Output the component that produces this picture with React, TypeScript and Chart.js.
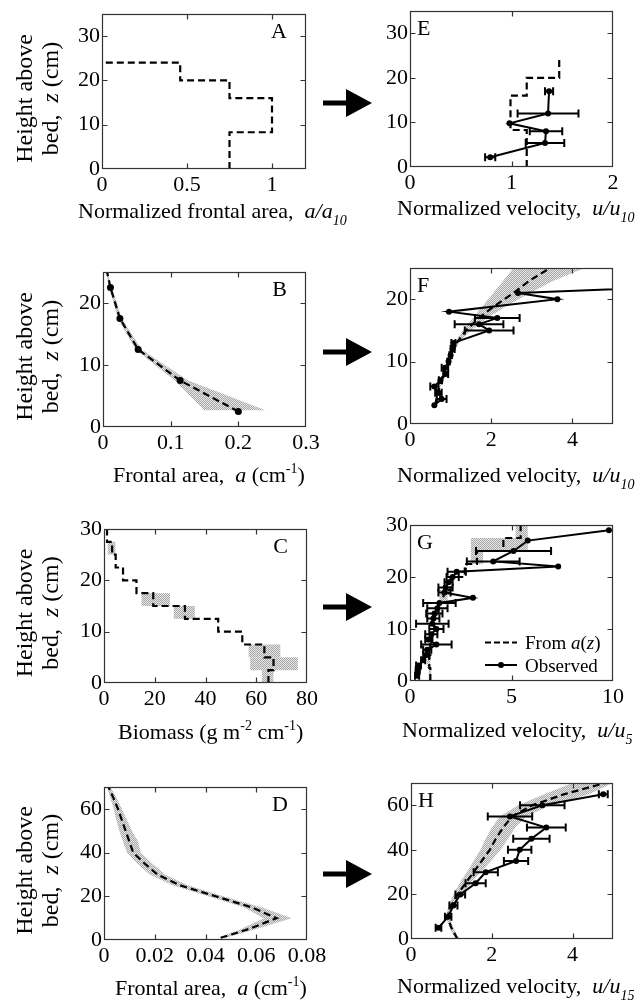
import React, { useEffect, useRef } from 'react';
import { Chart, registerables } from 'chart.js';
Chart.register(...registerables);

const FONT = "'Liberation Serif', 'Times New Roman', Times, serif";

// ---------------- DATA ----------------
// Panel A: normalized frontal area (step profile)
const aEdges = [0, 8.3, 16, 20, 24];
const aNormFrontal = [0.75, 1.0, 0.75, 0.46];
// Panel E: velocity predicted from a(z) and observed
const eEdges = [0, 8.3, 16, 20, 24];
const ePredicted = [1.15, 0.99, 1.15, 1.47];
const eObsZ = [2.2, 5.4, 8.0, 9.8, 12.0, 17.0];
const eObsU = [0.79, 1.33, 1.34, 0.98, 1.36, 1.37];
const eObsErr = [0.05, 0.19, 0.16, 0, 0.3, 0.04];

// Panel B: frontal area
const bZ = [2.5, 7.5, 12.5, 17.5, 22.5];
const bFrontal = [0.2, 0.114, 0.052, 0.025, 0.011];
const bFitZ = [2.5, 7.5, 12.5, 17.5, 22.5, 25];
const bFitA = [0.2, 0.114, 0.052, 0.025, 0.011, 0.006];
const bBandZ = [2.7, 7.5, 12.5, 17.5, 22.5, 25];
const bBandLo = [0.15, 0.106, 0.048, 0.022, 0.009, 0.005];
const bBandHi = [0.24, 0.126, 0.057, 0.028, 0.013, 0.007];

// Panel F
const fObsZ = [3, 4, 5, 6, 7, 8, 9, 10, 11, 12, 13, 15, 16, 17, 18, 20, 21, 22];
const fObsU = [0.6, 0.78, 0.7, 0.6, 0.75, 0.88, 0.86, 0.95, 1.0, 1.05, 1.07, 1.95, 1.7, 2.15, 0.96, 3.63, 2.66, 6.5];
const fObsErr = [0, 0.12, 0.08, 0.1, 0.04, 0.06, 0.08, 0.03, 0.03, 0.05, 0.05, 0.6, 0.6, 0.55, 0, 0, 0, 0];
const fPredZ = [3, 5, 7, 9, 11, 13, 15, 17, 19, 21, 23, 25];
const fPredU = [0.62, 0.68, 0.78, 0.88, 1.0, 1.15, 1.38, 1.7, 2.1, 2.55, 2.95, 3.45];
const fBandLo = [0.6, 0.66, 0.75, 0.85, 0.97, 1.1, 1.3, 1.55, 1.8, 2.05, 2.3, 2.55];
const fBandHi = [0.64, 0.7, 0.81, 0.91, 1.03, 1.2, 1.5, 1.9, 2.4, 2.95, 3.55, 4.3];

// Panel C: biomass (2.5 cm bins)
const cEdges = [0, 2.5, 5, 7.5, 10, 12.5, 15, 17.5, 20, 22.5, 25, 27.5, 30];
const cBiomass = [64.8, 66.8, 63.2, 54.5, 45, 31.9, 19.4, 12.8, 7.5, 4.6, 3.2, 1.2];
const cLo = [62.2, 57.6, 57, 54.5, 45, 27.5, 14.8, 12.8, 7.5, 4.6, 1.5, 1.2];
const cHi = [66.8, 76.4, 69.5, 54.5, 45, 35.8, 26, 12.8, 7.5, 4.6, 4.5, 1.2];

// Panel G
const gPred = [1.0, 0.95, 1.0, 1.1, 1.2, 1.4, 1.65, 2.0, 2.7, 3.3, 4.6, 5.45];
const gLo = [0.92, 0.85, 0.9, 1.1, 1.2, 1.3, 1.45, 2.0, 2.7, 3.0, 3.0, 5.2];
const gHi = [1.05, 1.0, 1.08, 1.1, 1.2, 1.5, 1.85, 2.0, 2.7, 3.6, 5.8, 5.8];
const gObsZ = [1, 2, 3, 4, 5, 6, 7, 8, 9, 10, 11, 12, 13, 14, 15, 16, 17, 18, 19, 20, 21, 22, 23, 25, 27, 29];
const gObsU = [0.35, 0.38, 0.42, 0.65, 0.8, 0.85, 1.3, 0.9, 1.05, 1.3, 1.1, 1.15, 1.2, 1.35, 1.45, 3.1, 1.7, 1.75, 1.9, 2.1, 2.3, 7.3, 4.1, 5.1, 5.8, 9.8];
const gObsErr = [0.1, 0.1, 0.12, 0.1, 0.15, 0.2, 0.75, 0.15, 0.3, 0.35, 0.8, 0.3, 0.4, 0.5, 0.8, 0, 0.3, 0.35, 0.2, 0.3, 0.45, 0, 1.3, 1.85, 0, 0];

// Panel D
const dZ = [1, 5, 10, 15, 20, 25, 30, 35, 40, 45, 50, 55, 60, 65, 70];
const dA = [0.046, 0.057, 0.068, 0.058, 0.044, 0.030, 0.021, 0.016, 0.0115, 0.010, 0.0085, 0.007, 0.0055, 0.0037, 0.0018];
const dLo = [0.045, 0.054, 0.063, 0.055, 0.041, 0.027, 0.018, 0.013, 0.009, 0.0075, 0.006, 0.0048, 0.0038, 0.0025, 0.0012];
const dHi = [0.048, 0.06, 0.074, 0.062, 0.047, 0.033, 0.024, 0.019, 0.0145, 0.0135, 0.011, 0.009, 0.007, 0.005, 0.0025];

// Panel H
const hObsZ = [5, 10, 15, 20, 25, 30, 35, 40, 45, 50, 55, 60, 65];
const hObsU = [0.68, 0.92, 1.05, 1.22, 1.6, 1.85, 2.6, 2.69, 2.98, 3.35, 2.45, 3.25, 4.76];
const hObsErr = [0.07, 0.08, 0.1, 0.12, 0.25, 0.3, 0.3, 0.29, 0.45, 0.48, 0.55, 0.55, 0.11];
const hPredZ = [0, 5, 10, 15, 20, 25, 30, 35, 40, 45, 50, 55, 60, 65, 70];
const hPredU = [1.15, 1.0, 0.9, 1.0, 1.15, 1.35, 1.55, 1.75, 1.95, 2.1, 2.28, 2.5, 3.0, 3.8, 4.8];
const hBandLo = [1.1, 0.95, 0.86, 0.93, 1.05, 1.2, 1.38, 1.55, 1.72, 1.85, 2.0, 2.2, 2.65, 3.3, 4.0];
const hBandHi = [1.2, 1.05, 0.95, 1.06, 1.25, 1.48, 1.72, 1.98, 2.22, 2.4, 2.58, 2.85, 3.45, 4.4, 5.0];

// Tick values
const ticks35 = [0, 10, 20, 30];
const ticks25 = [0, 10, 20];
const ticks70 = [0, 20, 40, 60];
const aXTicks = [0, 0.5, 1];
const eXTicks = [0, 1, 2];
const bXTicks = [0, 0.1, 0.2, 0.3];
const uXTicks5 = [0, 2, 4];
const cXTicks = [0, 20, 40, 60, 80];
const gXTicks = [0, 5, 10];
const dXTicks = [0, 0.02, 0.04, 0.06, 0.08];

// ---------------- HELPERS ----------------
type Seg = { t: string; i?: boolean; s?: 'sub' | 'sup' };

const toPts = (xs: number[], zs: number[]) => zs.map((z, i) => ({ x: xs[i], y: z }));
const stepPts = (edges: number[], vals: number[], closeToZero = false) => {
  const out: any[] = [];
  vals.forEach((v, i) => {
    out.push({ x: v, y: edges[i] });
    out.push({ x: v, y: edges[i + 1] });
  });
  if (closeToZero) out.push({ x: 0, y: edges[vals.length] });
  return out;
};
const stepBands = (edges: number[], lo: number[], hi: number[]) => {
  const polys: number[][][] = [];
  lo.forEach((l, i) => {
    if (hi[i] - l > 1e-9) polys.push([[l, edges[i]], [hi[i], edges[i]], [hi[i], edges[i + 1]], [l, edges[i + 1]]]);
  });
  return polys;
};
const bandPoly = (zs: number[], lo: number[], hi: number[]) => {
  const p: number[][] = zs.map((z, i) => [hi[i], z]);
  for (let i = zs.length - 1; i >= 0; i--) p.push([lo[i], zs[i]]);
  return p;
};
const errList = (xs: number[], zs: number[], es: number[]) => zs.map((z, i) => ({ x: xs[i], y: z, e: es[i] }));

const dashed = (data: any[]) => ({ data, showLine: true, borderColor: '#000', borderWidth: 2.2, borderDash: [7, 4], pointRadius: 0, fill: false });
const observed = (data: any[]) => ({ data, showLine: true, borderColor: '#000', borderWidth: 2, pointRadius: 3, pointBackgroundColor: '#000', pointBorderColor: '#000', pointBorderWidth: 0, fill: false });
const markers = (data: any[]) => ({ data, showLine: false, pointRadius: 3.5, pointBackgroundColor: '#000', pointBorderColor: '#000', pointBorderWidth: 0 });

const fmt = (v: number) => String(Math.round(v * 1e6) / 1e6);

let patternCanvas: HTMLCanvasElement | null = null;
function getPattern(ctx: CanvasRenderingContext2D) {
  if (!patternCanvas) {
    patternCanvas = document.createElement('canvas');
    patternCanvas.width = 2;
    patternCanvas.height = 2;
    const c = patternCanvas.getContext('2d')!;
    c.fillStyle = '#e6e6e6';
    c.fillRect(0, 0, 2, 2);
    c.fillStyle = '#a8a8a8';
    c.fillRect(0, 0, 1, 1);
    c.fillRect(1, 1, 1, 1);
  }
  return ctx.createPattern(patternCanvas, 'repeat')!;
}

function segFont(s: Seg, size: number) {
  const sz = s.s ? Math.round(size * 0.64) : size;
  return `${s.i ? 'italic ' : ''}${sz}px ${FONT}`;
}
function richWidth(ctx: CanvasRenderingContext2D, segs: Seg[], size: number) {
  let w = 0;
  for (const s of segs) { ctx.font = segFont(s, size); w += ctx.measureText(s.t).width; }
  return w;
}
function drawRich(ctx: CanvasRenderingContext2D, segs: Seg[], x: number, y: number, size: number) {
  ctx.textAlign = 'left';
  ctx.textBaseline = 'alphabetic';
  ctx.fillStyle = '#000';
  let cx = x;
  for (const s of segs) {
    ctx.font = segFont(s, size);
    const dy = s.s === 'sub' ? size * 0.3 : s.s === 'sup' ? -size * 0.4 : 0;
    ctx.fillText(s.t, cx, y + dy);
    cx += ctx.measureText(s.t).width;
  }
}

const velTitle = (sub: string): Seg[] => [{ t: 'Normalized velocity,  ' }, { t: 'u/u', i: true }, { t: sub, i: true, s: 'sub' }];
const areaTitle: Seg[] = [{ t: 'Frontal area,  ' }, { t: 'a', i: true }, { t: ' (cm' }, { t: '-1', s: 'sup' }, { t: ')' }];

type Panel = {
  letter: string; side: 'left' | 'right';
  canvas: { x: number; y: number; w: number; h: number };
  plot: { l: number; t: number; r: number; b: number };
  xMin: number; xMax: number; xTicks: number[];
  yMin: number; yMax: number; yTicks: number[];
  datasets: any[]; bands: number[][][]; errs: { x: number; y: number; e: number }[];
  title: Seg[]; titleX: number; titleY: number;
  yTitle?: boolean; legend?: boolean;
};

const panels: Panel[] = [
  {
    letter: 'A', side: 'right', canvas: { x: 0, y: 0, w: 400, h: 245 }, plot: { l: 102, t: 14, r: 306, b: 169 },
    xMin: 0, xMax: 1.2, xTicks: aXTicks, yMin: 0, yMax: 35, yTicks: ticks35,
    datasets: [dashed(stepPts(aEdges, aNormFrontal, true))], bands: [], errs: [],
    title: [{ t: 'Normalized frontal area,  ' }, { t: 'a/a', i: true }, { t: '10', i: true, s: 'sub' }], titleX: 78, titleY: 218, yTitle: true,
  },
  {
    letter: 'E', side: 'left', canvas: { x: 370, y: 0, w: 272, h: 245 }, plot: { l: 410, t: 11, r: 613, b: 167 },
    xMin: 0, xMax: 2, xTicks: eXTicks, yMin: 0, yMax: 35, yTicks: ticks35,
    datasets: [dashed(stepPts(eEdges, ePredicted)), observed(toPts(eObsU, eObsZ))], bands: [], errs: errList(eObsU, eObsZ, eObsErr),
    title: velTitle('10'), titleX: 397, titleY: 215,
  },
  {
    letter: 'B', side: 'right', canvas: { x: 0, y: 245, w: 400, h: 255 }, plot: { l: 103, t: 272, r: 306, b: 427 },
    xMin: 0, xMax: 0.3, xTicks: bXTicks, yMin: 0, yMax: 25, yTicks: ticks25,
    datasets: [dashed(toPts(bFitA, bFitZ)), markers(toPts(bFrontal, bZ))], bands: [bandPoly(bBandZ, bBandLo, bBandHi)], errs: [],
    title: areaTitle, titleX: 113, titleY: 482, yTitle: true,
  },
  {
    letter: 'F', side: 'left', canvas: { x: 370, y: 245, w: 272, h: 255 }, plot: { l: 410, t: 268, r: 613, b: 424 },
    xMin: 0, xMax: 5, xTicks: uXTicks5, yMin: 0, yMax: 25, yTicks: ticks25,
    datasets: [dashed(toPts(fPredU, fPredZ)), observed(toPts(fObsU, fObsZ))], bands: [bandPoly(fPredZ, fBandLo, fBandHi)], errs: errList(fObsU, fObsZ, fObsErr),
    title: velTitle('10'), titleX: 397, titleY: 482,
  },
  {
    letter: 'C', side: 'right', canvas: { x: 0, y: 500, w: 400, h: 255 }, plot: { l: 104, t: 529, r: 307, b: 683 },
    xMin: 0, xMax: 80, xTicks: cXTicks, yMin: 0, yMax: 30, yTicks: ticks35,
    datasets: [dashed(stepPts(cEdges, cBiomass))], bands: stepBands(cEdges, cLo, cHi), errs: [],
    title: [{ t: 'Biomass (g m' }, { t: '-2', s: 'sup' }, { t: ' cm' }, { t: '-1', s: 'sup' }, { t: ')' }], titleX: 118, titleY: 739, yTitle: true,
  },
  {
    letter: 'G', side: 'left', canvas: { x: 370, y: 500, w: 272, h: 255 }, plot: { l: 410, t: 525, r: 613, b: 681 },
    xMin: 0, xMax: 10, xTicks: gXTicks, yMin: 0, yMax: 30, yTicks: ticks35,
    datasets: [dashed(stepPts(cEdges, gPred)), observed(toPts(gObsU, gObsZ))], bands: stepBands(cEdges, gLo, gHi), errs: errList(gObsU, gObsZ, gObsErr),
    title: velTitle('5'), titleX: 402, titleY: 737, legend: true,
  },
  {
    letter: 'D', side: 'right', canvas: { x: 0, y: 755, w: 400, h: 246 }, plot: { l: 104, t: 787, r: 307, b: 940 },
    xMin: 0, xMax: 0.08, xTicks: dXTicks, yMin: 0, yMax: 70, yTicks: ticks70,
    datasets: [dashed(toPts(dA, dZ))], bands: [bandPoly(dZ, dLo, dHi)], errs: [],
    title: areaTitle, titleX: 115, titleY: 995, yTitle: true,
  },
  {
    letter: 'H', side: 'left', canvas: { x: 370, y: 755, w: 272, h: 246 }, plot: { l: 411, t: 783, r: 613, b: 939 },
    xMin: 0, xMax: 5, xTicks: uXTicks5, yMin: 0, yMax: 70, yTicks: ticks70,
    datasets: [dashed(toPts(hPredU, hPredZ)), observed(toPts(hObsU, hObsZ))], bands: [bandPoly(hPredZ, hBandLo, hBandHi)], errs: errList(hObsU, hObsZ, hObsErr),
    title: velTitle('15'), titleX: 397, titleY: 993,
  },
];

function makeDeco(p: Panel) {
  const ox = p.canvas.x, oy = p.canvas.y;
  return {
    id: 'deco' + p.letter,
    beforeDatasetsDraw(chart: any) {
      const { ctx, chartArea: ca, scales } = chart;
      const sx = scales.x, sy = scales.y;
      ctx.save();
      ctx.beginPath();
      ctx.rect(ca.left, ca.top, ca.right - ca.left, ca.bottom - ca.top);
      ctx.clip();
      ctx.fillStyle = getPattern(ctx);
      for (const poly of p.bands) {
        ctx.beginPath();
        poly.forEach(([vx, vz], i) => {
          const X = sx.getPixelForValue(vx), Y = sy.getPixelForValue(vz);
          if (i) ctx.lineTo(X, Y); else ctx.moveTo(X, Y);
        });
        ctx.closePath();
        ctx.fill();
      }
      ctx.restore();
    },
    afterDatasetsDraw(chart: any) {
      const { ctx, chartArea: ca, scales } = chart;
      const sx = scales.x, sy = scales.y;
      ctx.save();
      ctx.beginPath();
      ctx.rect(ca.left, ca.top, ca.right - ca.left, ca.bottom - ca.top);
      ctx.clip();
      ctx.strokeStyle = '#000';
      ctx.lineWidth = 2;
      for (const e of p.errs) {
        if (!(e.e > 0)) continue;
        const x1 = sx.getPixelForValue(e.x - e.e), x2 = sx.getPixelForValue(e.x + e.e), Y = sy.getPixelForValue(e.y);
        ctx.beginPath();
        ctx.moveTo(x1, Y); ctx.lineTo(x2, Y);
        ctx.moveTo(x1, Y - 4); ctx.lineTo(x1, Y + 4);
        ctx.moveTo(x2, Y - 4); ctx.lineTo(x2, Y + 4);
        ctx.stroke();
      }
      ctx.restore();
    },
    afterDraw(chart: any) {
      const { ctx, chartArea: ca, scales } = chart;
      const sx = scales.x, sy = scales.y;
      ctx.save();
      // frame
      const L = Math.round(ca.left) + 0.5, T = Math.round(ca.top) + 0.5, R = Math.round(ca.right) - 0.5, B = Math.round(ca.bottom) - 0.5;
      ctx.strokeStyle = '#333';
      ctx.lineWidth = 1.2;
      ctx.setLineDash([]);
      ctx.strokeRect(L, T, R - L, B - T);
      ctx.beginPath();
      for (const v of p.xTicks) {
        const X = Math.round(sx.getPixelForValue(v)) + 0.5;
        if (X <= L + 1 || X >= R - 1) continue;
        ctx.moveTo(X, B); ctx.lineTo(X, B - 5);
        ctx.moveTo(X, T); ctx.lineTo(X, T + 5);
      }
      for (const v of p.yTicks) {
        const Y = Math.round(sy.getPixelForValue(v)) + 0.5;
        if (Y <= T + 1 || Y >= B - 1) continue;
        ctx.moveTo(L, Y); ctx.lineTo(L + 5, Y);
        ctx.moveTo(R, Y); ctx.lineTo(R - 5, Y);
      }
      ctx.stroke();
      // panel letter
      ctx.fillStyle = '#000';
      ctx.font = `22px ${FONT}`;
      ctx.textBaseline = 'alphabetic';
      if (p.side === 'right') { ctx.textAlign = 'right'; ctx.fillText(p.letter, ca.right - 19, ca.top + 24); }
      else { ctx.textAlign = 'left'; ctx.fillText(p.letter, ca.left + 7, ca.top + 24); }
      // x title
      drawRich(ctx, p.title, p.titleX - ox, p.titleY - oy, 22);
      // y title
      if (p.yTitle) {
        const cy = (p.plot.t + p.plot.b) / 2 + 7 - oy;
        const lines: Seg[][] = [[{ t: 'Height above' }], [{ t: 'bed,  ' }, { t: 'z', i: true }, { t: ' (cm)' }]];
        const bxs = [32, 58];
        lines.forEach((segs, k) => {
          const w = richWidth(ctx, segs, 24);
          ctx.save();
          ctx.translate(bxs[k] - ox, cy);
          ctx.rotate(-Math.PI / 2);
          drawRich(ctx, segs, -w / 2, 0, 24);
          ctx.restore();
        });
      }
      // legend
      if (p.legend) {
        const y1 = 642.5 - oy, y2 = 665 - oy, x1 = 485 - ox, x2 = 517 - ox;
        ctx.strokeStyle = '#000';
        ctx.lineWidth = 2.2;
        ctx.setLineDash([6, 3]);
        ctx.beginPath(); ctx.moveTo(x1, y1); ctx.lineTo(x2, y1); ctx.stroke();
        ctx.setLineDash([]);
        ctx.lineWidth = 2;
        ctx.beginPath(); ctx.moveTo(x1, y2); ctx.lineTo(x2, y2); ctx.stroke();
        ctx.beginPath(); ctx.arc((x1 + x2) / 2, y2, 3, 0, Math.PI * 2); ctx.fillStyle = '#000'; ctx.fill();
        drawRich(ctx, [{ t: 'From ' }, { t: 'a', i: true }, { t: '(' }, { t: 'z', i: true }, { t: ')' }], 525 - ox, 648.5 - oy, 19);
        drawRich(ctx, [{ t: 'Observed' }], 525 - ox, 671.5 - oy, 19);
      }
      ctx.restore();
    },
  };
}

function axis(min: number, max: number, ticks: number[], kind: 'x' | 'y', size: number) {
  return {
    type: 'linear', min, max,
    grid: { display: false, drawTicks: false },
    border: { display: false },
    ticks: {
      autoSkip: false, maxRotation: 0, minRotation: 0, padding: kind === 'x' ? 3 : 2, color: '#000',
      font: { family: FONT, size: 22 },
      callback: (v: number) => fmt(v),
    },
    afterBuildTicks: (s: any) => { s.ticks = ticks.map((v) => ({ value: v })); },
    afterFit: (s: any) => {
      if (kind === 'x') s.height = size; else s.width = size;
      s.paddingLeft = 0; s.paddingRight = 0; s.paddingTop = 0; s.paddingBottom = 0;
    },
  };
}

function buildConfig(p: Panel): any {
  const YW = 40, XH = 40;
  const c = p.canvas, a = p.plot;
  return {
    type: 'scatter',
    data: { datasets: p.datasets },
    plugins: [makeDeco(p)],
    options: {
      responsive: false, animation: false, devicePixelRatio: 1, events: [],
      layout: {
        autoPadding: false,
        padding: { left: a.l - c.x - YW, right: c.x + c.w - a.r, top: a.t - c.y, bottom: c.y + c.h - a.b - XH },
      },
      plugins: { legend: { display: false }, tooltip: { enabled: false } },
      scales: {
        x: axis(p.xMin, p.xMax, p.xTicks, 'x', XH),
        y: axis(p.yMin, p.yMax, p.yTicks, 'y', YW),
      },
    },
  };
}

function PanelChart({ p }: { p: Panel }) {
  const ref = useRef<HTMLCanvasElement>(null);
  useEffect(() => {
    const chart = new Chart(ref.current!, buildConfig(p));
    return () => chart.destroy();
  }, []);
  return (
    <canvas
      ref={ref}
      width={p.canvas.w}
      height={p.canvas.h}
      style={{ position: 'absolute', left: p.canvas.x, top: p.canvas.y, width: p.canvas.w, height: p.canvas.h }}
    />
  );
}

export default function App() {
  const arrowYs = [103, 352, 607, 874];
  return (
    <div style={{ position: 'absolute', left: 0, top: 0, width: 642, height: 1001, background: '#fff', overflow: 'hidden' }}>
      {panels.map((p) => <PanelChart key={p.letter} p={p} />)}
      <svg width={642} height={1001} style={{ position: 'absolute', left: 0, top: 0, pointerEvents: 'none' }}>
        {arrowYs.map((y) => (
          <g key={y}>
            <rect x={323} y={y - 2.5} width={25} height={5} fill="#000" />
            <polygon points={`346,${y - 14} 372,${y} 346,${y + 14}`} fill="#000" />
          </g>
        ))}
      </svg>
    </div>
  );
}
